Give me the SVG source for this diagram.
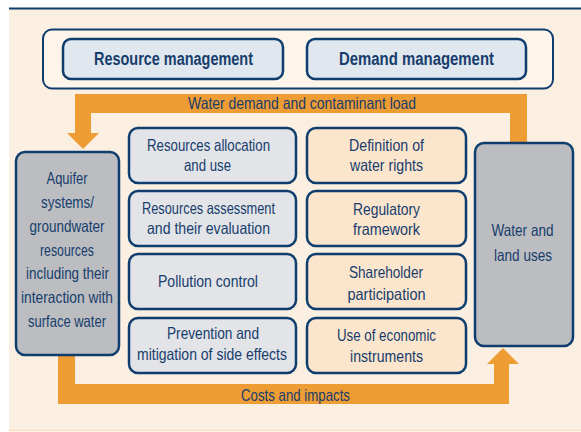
<svg xmlns="http://www.w3.org/2000/svg" width="581" height="432" viewBox="0 0 581 432">
<style>
text{font-family:"Liberation Sans",Arial,sans-serif;fill:#173d6c;text-anchor:middle;font-size:16.5px}
.b{font-weight:bold;font-size:17.5px}
.box{stroke:#0f3e6e;stroke-width:2.5}
.blue{fill:#e0e7ef}
.grey{fill:#e2e4e8}
.peach{fill:#fbe5cc}
.dark{fill:#bcbdc1}
.arrow{fill:#ee9c34}
</style>
<rect x="0" y="0" width="581" height="432" fill="#ffffff"/>
<rect x="9" y="9" width="572" height="422" fill="#fbefe1"/>
<line x1="9" y1="8.5" x2="581" y2="8.5" stroke="#0f3e6e" stroke-width="2"/>
<line x1="9" y1="430.5" x2="581" y2="430.5" stroke="#f6dcbc" stroke-width="1.5"/>

<g id="connectors">
<path class="arrow" d="M527 143 V94 H75 V133 H67 L83 149 L99 133 H91 V113 H510 V143 Z"/>
<path class="arrow" d="M58 355 V404 H509 V364 H519 L503 348 L487 364 H494 V384 H75 V355 Z"/>
<text x="302" y="109" textLength="228" lengthAdjust="spacingAndGlyphs">Water demand and contaminant load</text>
<text x="295.5" y="401" textLength="109" lengthAdjust="spacingAndGlyphs">Costs and impacts</text>
</g>

<g id="management">
<rect x="43" y="29.5" width="510" height="59" rx="9" fill="#fdf4ea" stroke="#0f3e6e" stroke-width="2"/>
</g>
<g id="resource-management">
<rect class="box blue" x="63" y="39" width="220" height="40" rx="8"/>
<text class="b" x="173.5" y="64.5" textLength="159" lengthAdjust="spacingAndGlyphs">Resource management</text>
</g>
<g id="demand-management">
<rect class="box blue" x="307" y="39" width="219" height="40" rx="8"/>
<text class="b" x="416.5" y="64.5" textLength="155" lengthAdjust="spacingAndGlyphs">Demand management</text>
</g>

<g id="aquifer">
<rect class="box dark" x="16" y="152" width="103" height="203" rx="9"/>
<text x="67" y="183.5" textLength="41" lengthAdjust="spacingAndGlyphs">Aquifer</text>
<text x="67.5" y="207.5" textLength="53" lengthAdjust="spacingAndGlyphs">systems/</text>
<text x="67" y="231.5" textLength="75" lengthAdjust="spacingAndGlyphs">groundwater</text>
<text x="67" y="255.5" textLength="54" lengthAdjust="spacingAndGlyphs">resources</text>
<text x="67.5" y="279" textLength="83" lengthAdjust="spacingAndGlyphs">including their</text>
<text x="67" y="303" textLength="92" lengthAdjust="spacingAndGlyphs">interaction with</text>
<text x="67" y="327" textLength="78" lengthAdjust="spacingAndGlyphs">surface water</text>
</g>

<g id="water-land">
<rect class="box dark" x="475" y="143" width="98" height="203" rx="9"/>
<text x="522.5" y="235.5" textLength="62" lengthAdjust="spacingAndGlyphs">Water and</text>
<text x="523" y="260.5" textLength="58" lengthAdjust="spacingAndGlyphs">land uses</text>
</g>

<g id="allocation">
<rect class="box grey" x="129" y="128" width="167" height="55" rx="9"/>
<text x="208.5" y="151" textLength="123" lengthAdjust="spacingAndGlyphs">Resources allocation</text>
<text x="207.5" y="171" textLength="47" lengthAdjust="spacingAndGlyphs">and use</text>
</g>
<g id="assessment">
<rect class="box grey" x="129" y="191" width="167" height="55" rx="9"/>
<text x="208.5" y="214" textLength="133" lengthAdjust="spacingAndGlyphs">Resources assessment</text>
<text x="208.5" y="234" textLength="123" lengthAdjust="spacingAndGlyphs">and their evaluation</text>
</g>
<g id="pollution">
<rect class="box grey" x="129" y="254" width="167" height="55" rx="9"/>
<text x="208" y="287" textLength="100" lengthAdjust="spacingAndGlyphs">Pollution control</text>
</g>
<g id="prevention">
<rect class="box grey" x="129" y="318" width="167" height="55" rx="9"/>
<text x="213" y="339" textLength="92" lengthAdjust="spacingAndGlyphs">Prevention and</text>
<text x="212" y="360" textLength="150" lengthAdjust="spacingAndGlyphs">mitigation of side effects</text>
</g>

<g id="rights">
<rect class="box peach" x="307" y="128" width="159" height="55" rx="9"/>
<text x="386.5" y="151" textLength="75" lengthAdjust="spacingAndGlyphs">Definition of</text>
<text x="386.5" y="171" textLength="73" lengthAdjust="spacingAndGlyphs">water rights</text>
</g>
<g id="regulatory">
<rect class="box peach" x="307" y="191" width="159" height="55" rx="9"/>
<text x="386.5" y="215" textLength="67" lengthAdjust="spacingAndGlyphs">Regulatory</text>
<text x="386.5" y="235" textLength="67" lengthAdjust="spacingAndGlyphs">framework</text>
</g>
<g id="shareholder">
<rect class="box peach" x="307" y="254" width="159" height="55" rx="9"/>
<text x="386" y="278" textLength="74" lengthAdjust="spacingAndGlyphs">Shareholder</text>
<text x="386.5" y="300" textLength="78" lengthAdjust="spacingAndGlyphs">participation</text>
</g>
<g id="economic">
<rect class="box peach" x="307" y="318" width="159" height="55" rx="9"/>
<text x="386.5" y="341" textLength="99" lengthAdjust="spacingAndGlyphs">Use of economic</text>
<text x="386.5" y="362" textLength="73" lengthAdjust="spacingAndGlyphs">instruments</text>
</g>
</svg>
